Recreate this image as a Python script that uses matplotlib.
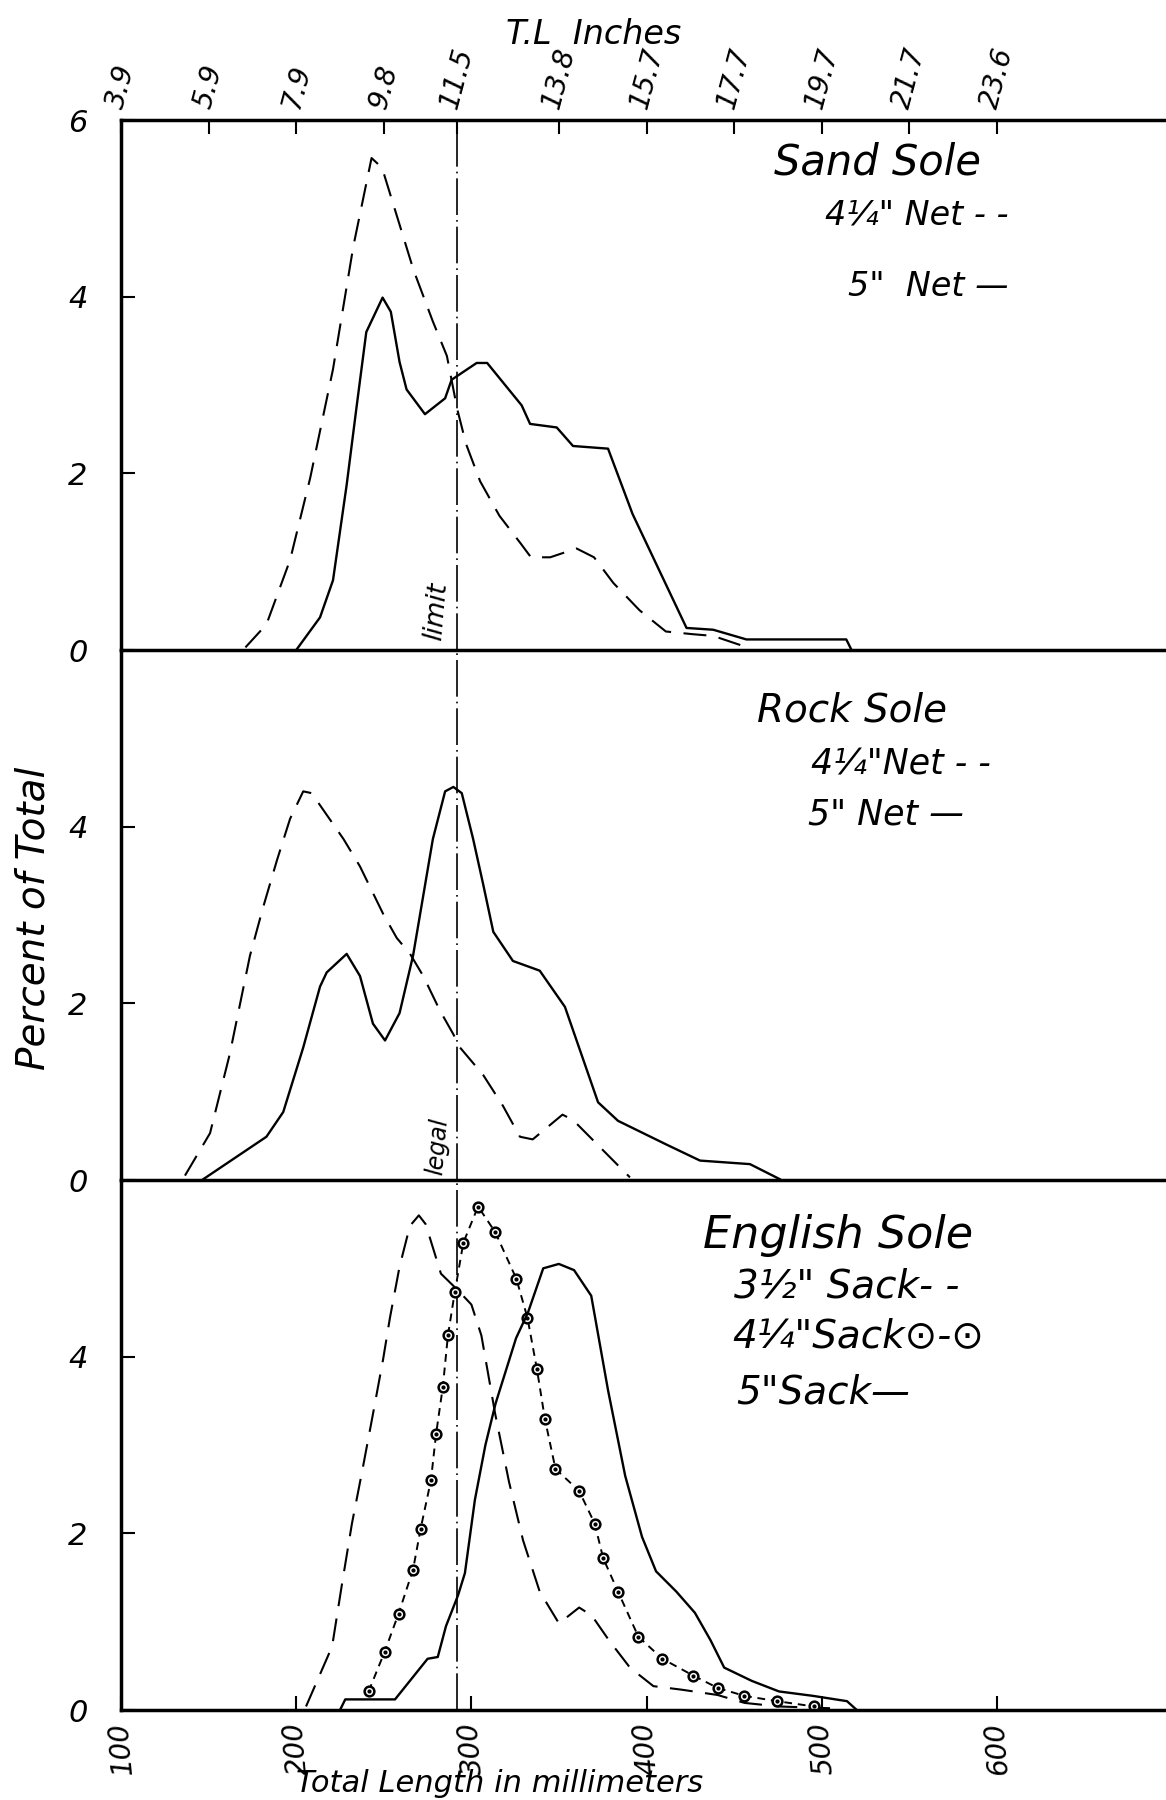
"""Length frequency of sand, rock and English sole caught with different meshes."""
import matplotlib.pyplot as plt

# Sand sole, total length in mm and percent of total
sand_net4_mm = [171, 183, 196.5, 208, 221, 232.6, 243, 249, 267, 278, 286,
                292, 297, 305, 316, 328, 334, 345, 360, 370, 381, 396, 411,
                426, 438, 459]
sand_net4_pct = [0.03, 0.29, 1.02, 1.95, 3.18, 4.57, 5.57, 5.46, 4.30, 3.72,
                 3.33, 2.72, 2.33, 1.91, 1.52, 1.21, 1.05, 1.05, 1.15, 1.05,
                 0.76, 0.45, 0.21, 0.18, 0.16, 0.02]
sand_net5_mm = [200, 213.6, 221, 228.8, 234.5, 240, 249.3, 254, 259, 263,
                273.5, 285, 288.7, 303, 309, 328.7, 333.5, 348.7, 358, 378,
                392, 422.8, 438, 457, 514, 517]
sand_net5_pct = [0.0, 0.37, 0.79, 1.87, 2.76, 3.60, 3.99, 3.83, 3.26, 2.95,
                 2.67, 2.85, 3.06, 3.25, 3.25, 2.77, 2.56, 2.52, 2.31, 2.28,
                 1.54, 0.25, 0.23, 0.12, 0.12, 0.0]

# Rock sole
rock_net4_mm = [136.5, 150.8, 162, 173.6, 181, 189, 196.5, 204, 208.8, 227,
                236.4, 249.7, 257.4, 265, 272.5, 282, 289.7, 293.5, 306.7,
                318, 327.7, 335, 352, 358, 369.5, 381, 390.5]
rock_net4_pct = [0.05, 0.53, 1.42, 2.54, 3.08, 3.62, 4.09, 4.40, 4.38, 3.86,
                 3.55, 3.01, 2.74, 2.56, 2.31, 1.92, 1.65, 1.50, 1.19, 0.84,
                 0.49, 0.46, 0.74, 0.68, 0.45, 0.22, 0.03]
rock_net5_mm = [147, 183, 192.6, 204, 213.6, 217.4, 228.8, 236.4, 243.8,
                250.7, 259, 266.7, 278, 285, 289.7, 294.5, 301, 306.7, 312.5,
                323.7, 339, 353.4, 372.3, 383.7, 411.5, 430.5, 459, 476]
rock_net5_pct = [0.01, 0.49, 0.77, 1.50, 2.19, 2.35, 2.56, 2.31, 1.77, 1.58,
                 1.89, 2.54, 3.86, 4.40, 4.45, 4.38, 3.86, 3.35, 2.81, 2.48,
                 2.37, 1.96, 0.88, 0.67, 0.40, 0.22, 0.18, 0.01]

# English sole
eng_sack3_mm = [205.6, 220.5, 226, 231.8, 237.9, 243.8, 249.6, 253.5, 259,
                264.9, 270, 273.9, 282.6, 292.4, 300, 305.7, 313.6, 321.5,
                329.5, 339, 350, 361.5, 368.7, 378.5, 390.5, 403.9, 420,
                440.5, 456, 475.5, 504.7]
eng_sack3_pct = [0.04, 0.72, 1.41, 2.11, 2.73, 3.35, 3.97, 4.44, 5.02, 5.48,
                 5.60, 5.50, 4.94, 4.75, 4.59, 4.24, 3.35, 2.58, 1.92, 1.34,
                 0.98, 1.16, 1.07, 0.79, 0.48, 0.27, 0.23, 0.17, 0.08, 0.04,
                 0.02]
eng_sack4_mm = [241.3, 250.5, 258.4, 266.7, 271, 276.9, 279.8, 283.7, 286.6,
                290.5, 295.4, 303.8, 313.6, 325.7, 332, 337.4, 342, 348,
                361.5, 370.4, 375.2, 383.7, 395.3, 409, 426.6, 440.6, 455.8,
                474.5, 495.5]
eng_sack4_pct = [0.21, 0.66, 1.09, 1.59, 2.05, 2.60, 3.12, 3.66, 4.24, 4.73,
                 5.29, 5.70, 5.41, 4.88, 4.44, 3.86, 3.29, 2.73, 2.48, 2.11,
                 1.72, 1.34, 0.83, 0.58, 0.39, 0.25, 0.16, 0.10, 0.04]
eng_sack5_mm = [225, 228, 256.4, 275, 280.8, 285.5, 292.4, 296.3, 302, 308,
                313.8, 325.5, 332.3, 341, 349.9, 358.6, 368.4, 378, 387.8,
                397.4, 405.4, 417, 427.6, 436.5, 444.3, 460, 475.6, 495,
                514.4, 520]
eng_sack5_pct = [0.0, 0.12, 0.12, 0.58, 0.60, 0.95, 1.30, 1.55, 2.38, 3.00,
                 3.47, 4.21, 4.50, 5.00, 5.05, 4.98, 4.69, 3.62, 2.65, 1.96,
                 1.57, 1.34, 1.10, 0.79, 0.48, 0.33, 0.21, 0.16, 0.10, 0.0]

# Axis labels
inch_pos_mm = [100, 150, 200, 250, 292, 350, 400, 450, 500, 550, 600]
inch_labels = ['3.9', '5.9', '7.9', '9.8', '11.5', '13.8', '15.7', '17.7',
               '19.7', '21.7', '23.6']
mm_ticks = [100, 200, 300, 400, 500, 600]
legal_limit_mm = 292

DASH = (0, (11, 6))
IT = dict(style='italic', color='black')


def style_axes(ax, yticks):
    """Common frame settings for one panel."""
    ax.patch.set_alpha(0)
    ax.set_xlim(100, 696.5)
    ax.set_ylim(0, 6)
    ax.spines['right'].set_visible(False)
    for side in ['left', 'bottom', 'top']:
        ax.spines[side].set_linewidth(2.5)
    ax.set_yticks(yticks)
    ax.set_yticklabels([str(t) for t in yticks], fontsize=22, **IT)
    ax.tick_params(axis='y', direction='in', length=10, width=1.5, pad=24)
    ax.axvline(legal_limit_mm, color='black', lw=1.2,
               linestyle=(0, (22, 3, 1, 3)))


fig, axes = plt.subplots(3, 1, figsize=(11.66, 18), dpi=100)
fig.subplots_adjust(left=0.1038, right=1.0, top=0.9333, bottom=0.05,
                    hspace=0)
ax1, ax2, ax3 = axes

# Sand sole
style_axes(ax1, [0, 2, 4, 6])
ax1.plot(sand_net4_mm, sand_net4_pct, color='black', lw=1.5, linestyle=DASH)
ax1.plot(sand_net5_mm, sand_net5_pct, color='black', lw=1.7)
ax1.xaxis.set_ticks_position('top')
ax1.set_xticks(inch_pos_mm)
ax1.set_xticklabels(inch_labels, rotation=75, fontsize=20, **IT)
ax1.tick_params(axis='x', direction='in', length=10, width=1.5, pad=6)
ax1.text(289, 0.1, 'limit', rotation=85, ha='right', va='bottom',
         fontsize=19, **IT)
ax1.text(473, 5.52, 'Sand Sole', fontsize=30, va='center', **IT)
ax1.text(502, 4.92, '4¼" Net - -', fontsize=24, va='center', **IT)
ax1.text(515, 4.12, '5"  Net —', fontsize=24, va='center', **IT)

# Rock sole
style_axes(ax2, [0, 2, 4])
ax2.plot(rock_net4_mm, rock_net4_pct, color='black', lw=1.5, linestyle=DASH)
ax2.plot(rock_net5_mm, rock_net5_pct, color='black', lw=1.7)
ax2.set_xticks([])
ax2.spines['top'].set_visible(False)
ax2.text(289, 0.05, 'legal', rotation=85, ha='right', va='bottom',
         fontsize=17, **IT)
ax2.text(463, 5.32, 'Rock Sole', fontsize=28, va='center', **IT)
ax2.text(494, 4.70, '4¼"Net - -', fontsize=25, va='center', **IT)
ax2.text(492, 4.14, '5" Net —', fontsize=25, va='center', **IT)

# English sole
style_axes(ax3, [0, 2, 4])
ax3.plot(eng_sack3_mm, eng_sack3_pct, color='black', lw=1.5, linestyle=DASH)
ax3.plot(eng_sack4_mm, eng_sack4_pct, color='black', lw=1.4,
         linestyle=(0, (4, 3)), marker='o', ms=7, mfc='white', mec='black',
         mew=1.8)
ax3.plot(eng_sack4_mm, eng_sack4_pct, linestyle='none', marker='o', ms=2,
         color='black')
ax3.plot(eng_sack5_mm, eng_sack5_pct, color='black', lw=1.7)
ax3.spines['top'].set_visible(False)
ax3.set_xticks(mm_ticks)
ax3.set_xticklabels([str(t) for t in mm_ticks], rotation=95, fontsize=20,
                    **IT)
ax3.tick_params(axis='x', direction='in', length=10, width=1.5, pad=8)
ax3.text(432, 5.37, 'English Sole', fontsize=32, va='center', **IT)
ax3.text(450, 4.79, '3½" Sack- -', fontsize=28, va='center', **IT)
ax3.text(449, 4.23, '4¼"Sack⊙-⊙', fontsize=28, va='center', **IT)
ax3.text(451, 3.60, '5"Sack—', fontsize=28, va='center', **IT)

# Figure labels
fig.text(594 / 1166, 1 - 35 / 1800, 'T.L  Inches', ha='center', va='center',
         fontsize=24, **IT)
fig.text(500 / 1166, 1 - 1783 / 1800, 'Total Length in millimeters',
         ha='center', va='center', fontsize=22, **IT)
fig.text(34 / 1166, 1 - 918 / 1800, 'Percent of Total', rotation=90,
         ha='center', va='center', fontsize=28, **IT)

fig.savefig('out.png', dpi=100)
